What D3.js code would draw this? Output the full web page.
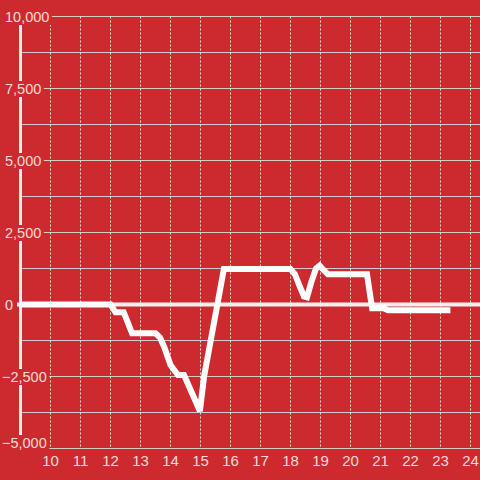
<!DOCTYPE html>
<html>
<head>
<meta charset="utf-8">
<script src="https://cdn.jsdelivr.net/npm/d3@7"></script>
<style>
  body { margin: 0; background: #cd2a30; }
  svg { display: block; }
</style>
</head>
<body>
<svg id="chart"></svg>
<script>
// values
var times = [9, 12, 12.17, 12.44, 12.72, 13.5, 13.65, 13.8, 14.0, 14.25, 14.45, 14.98, 15.12, 15.78,
             18.0, 18.15, 18.3, 18.45, 18.55, 18.7, 18.85, 18.97, 19.1, 19.25, 20.55, 20.72, 21.1, 21.25, 23.33];
var values = [0, 0, -270, -270, -1000, -1000, -1150, -1500, -2100, -2450, -2450, -3700, -2500, 1230,
              1230, 1050, 650, 280, 250, 800, 1250, 1350, 1200, 1050, 1050, -130, -130, -200, -200];
var xTicks = [10, 11, 12, 13, 14, 15, 16, 17, 18, 19, 20, 21, 22, 23, 24];
var yTicks = [10000, 7500, 5000, 2500, 0, -2500, -5000];
var yMinor = [8750, 6250, 3750, 1250, -1250, -3750];

var width = 480, height = 480;
var bg = "#cd2a30";
var fmt = d3.format(",");

var svg = d3.select("#chart")
    .attr("width", width)
    .attr("height", height);

var x = d3.scaleLinear().domain([9, 25]).range([20.5, 500.5]);
var y = d3.scaleLinear().domain([-5000, 10000]).range([448.5, 16.5]);

var data = times.map(function (t, i) { return { t: t, v: values[i] }; });

// horizontal grid
svg.append("g")
    .selectAll("line")
    .data(yTicks.concat(yMinor))
    .enter().append("line")
    .attr("x1", 22).attr("x2", width)
    .attr("y1", function (d) { return y(d); })
    .attr("y2", function (d) { return y(d); })
    .attr("stroke", "#d2cccc")
    .attr("stroke-width", 1);

// vertical dotted grid
svg.append("g")
    .selectAll("line")
    .data(xTicks)
    .enter().append("line")
    .attr("x1", function (d) { return x(d); })
    .attr("x2", function (d) { return x(d); })
    .attr("y1", y(10000))
    .attr("y2", y(-5000) - 2)
    .attr("stroke", "#ebdcdc")
    .attr("stroke-width", 1)
    .attr("stroke-dasharray", "2,2");

// y axis line
svg.append("line")
    .attr("x1", x(9)).attr("x2", x(9))
    .attr("y1", y(10000)).attr("y2", y(-5000))
    .attr("stroke", "#f4f0f0")
    .attr("stroke-width", 3);

// y labels with a background box (bottom one nudged up to stay inside)
var yLab = svg.append("g")
    .selectAll("g")
    .data(yTicks)
    .enter().append("g");

yLab.append("text")
    .attr("x", function (d) { return d < 0 ? 2 : 5; })
    .attr("y", function (d) { return y(d) + 5.5 - (d === -5000 ? 6 : 0); })
    .attr("font-family", "Liberation Sans, Arial, sans-serif")
    .attr("font-size", "14.5px")
    .attr("fill", "#f7dada")
    .text(function (d) { return fmt(d); });

yLab.each(function () {
    var g = d3.select(this);
    var b = g.select("text").node().getBBox();
    g.insert("rect", "text")
        .attr("x", b.x - 1)
        .attr("y", b.y)
        .attr("width", b.width + 3.5)
        .attr("height", b.height)
        .attr("fill", bg);
});

// x labels
svg.append("g")
    .selectAll("text")
    .data(xTicks)
    .enter().append("text")
    .attr("x", function (d) { return x(d); })
    .attr("y", 466)
    .attr("text-anchor", "middle")
    .attr("font-family", "Liberation Sans, Arial, sans-serif")
    .attr("font-size", "15px")
    .attr("fill", "#f7dada")
    .text(function (d) { return d; });

// zero line
svg.append("line")
    .attr("x1", 17).attr("x2", width)
    .attr("y1", y(0)).attr("y2", y(0))
    .attr("stroke", "#f6f1f1")
    .attr("stroke-width", 4);

var line = d3.line()
    .x(function (d) { return x(d.t); })
    .y(function (d) { return y(d.v); });

svg.append("path")
    .datum(data)
    .attr("d", line)
    .attr("fill", "none")
    .attr("stroke", "#ffffff")
    .attr("stroke-width", 6)
    .attr("stroke-miterlimit", 2);
</script>
</body>
</html>
